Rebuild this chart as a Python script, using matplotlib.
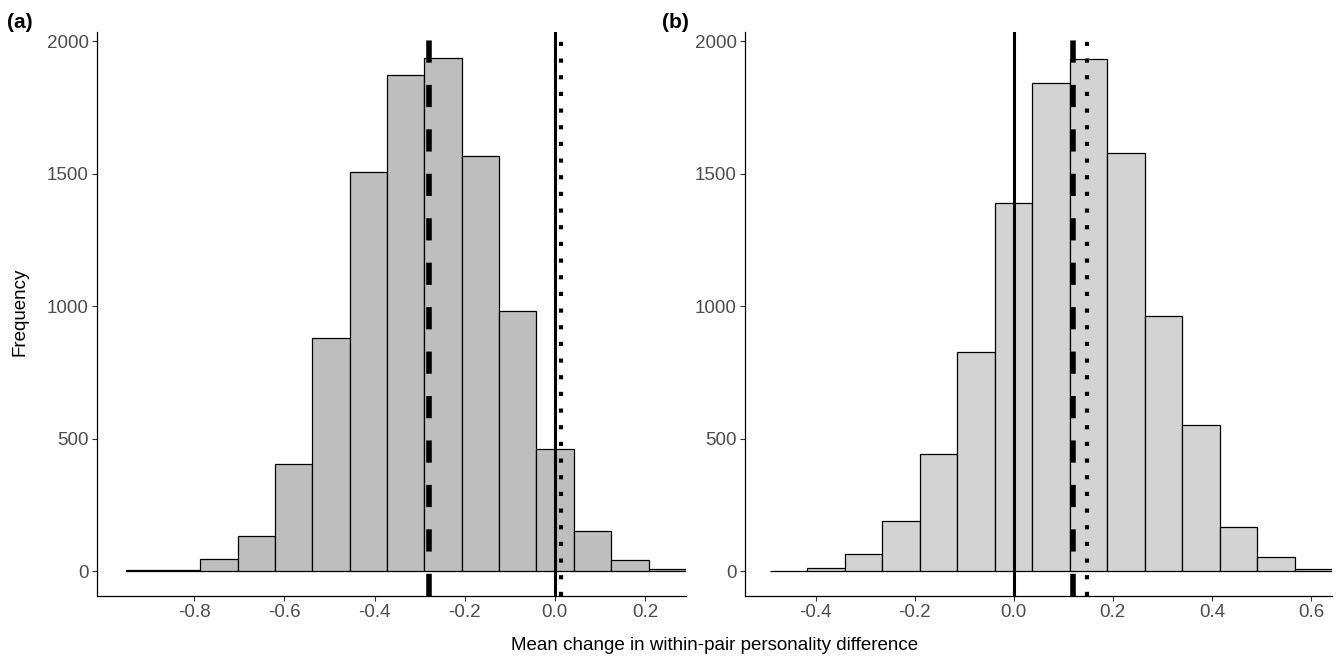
import matplotlib
matplotlib.use("Agg")
import matplotlib.pyplot as plt
import numpy as np

plt.rcParams['font.family'] = ['Liberation Sans', 'DejaVu Sans']
plt.rcParams['axes.unicode_minus'] = False

# ---------------- data ----------------
# panel (a)
a_edges = [-0.9525, -0.8696, -0.7867, -0.7039, -0.6210, -0.5381, -0.4552, -0.3723,
           -0.2895, -0.2066, -0.1237, -0.0408, 0.0421, 0.1249, 0.2078, 0.2907]
a_counts = [3, 5, 47, 134, 403, 879, 1507, 1873, 1936, 1567, 983, 460, 152, 41, 7]
a_dashed = -0.280
a_dotted = 0.0145
a_solid = 0.0
a_xticks = [-0.8, -0.6, -0.4, -0.2, 0.0, 0.2]
a_xticklabels = ["-0.8", "-0.6", "-0.4", "-0.2", "0.0", "0.2"]
a_xlim = (-1.016, 0.291)

# panel (b)
b_edges = [-0.4925, -0.4168, -0.3412, -0.2655, -0.1899, -0.1142, -0.0386, 0.0371,
           0.1128, 0.1884, 0.2641, 0.3397, 0.4154, 0.4910, 0.5667, 0.6424]
b_counts = [2, 11, 66, 189, 442, 827, 1388, 1842, 1933, 1579, 962, 551, 168, 52, 7]
b_dashed = 0.119
b_dotted = 0.148
b_solid = 0.0
b_xticks = [-0.4, -0.2, 0.0, 0.2, 0.4, 0.6]
b_xticklabels = ["-0.4", "-0.2", "0.0", "0.2", "0.4", "0.6"]
b_xlim = (-0.5426, 0.6424)

yticks = [0, 500, 1000, 1500, 2000]
yticklabels = ["0", "500", "1000", "1500", "2000"]
ylim = (-94, 2034)

panel_labels = ["(a)", "(b)"]
xlabel = "Mean change in within-pair personality difference"
ylabel = "Frequency"

# ---------------- figure ----------------
W, H = 1338, 659
fig = plt.figure(figsize=(W / 100, H / 100), dpi=100)
fig.patch.set_facecolor("white")

def px_axes(x0, x1, ytop, ybot):
    return fig.add_axes([x0 / W, 1 - ybot / H, (x1 - x0) / W, (ybot - ytop) / H])

ax1 = px_axes(97, 686, 32, 596)
ax2 = px_axes(745, 1332, 32, 596)

def draw(ax, edges, counts, fill, dashed, dotted, solid, xticks, xticklabels, xlim):
    edges = np.asarray(edges)
    widths = np.diff(edges)
    ax.bar(edges[:-1], counts, width=widths, align='edge', color=fill,
           edgecolor='black', linewidth=0.9, zorder=2)
    ax.axvline(solid, color='black', linewidth=2.2, zorder=3)
    ax.axvline(dashed, color='black', linewidth=4.0, linestyle=(0, (4, 4)),
               dash_capstyle='butt', zorder=3)
    ax.axvline(dotted, color='black', linewidth=3.0, linestyle=(0, (1, 3)),
               dash_capstyle='butt', zorder=3)
    ax.set_xlim(*xlim)
    ax.set_ylim(*ylim)
    ax.set_xticks(xticks)
    ax.set_xticklabels(xticklabels)
    ax.set_yticks(yticks)
    ax.set_yticklabels(yticklabels)
    for s in ['top', 'right']:
        ax.spines[s].set_visible(False)
    for s in ['left', 'bottom']:
        ax.spines[s].set_linewidth(0.9)
        ax.spines[s].set_color('black')
    ax.tick_params(axis='both', direction='out', length=3.5, width=0.8,
                   color='#333333', labelsize=13.5, labelcolor='#4D4D4D', pad=2.5)
    ax.set_facecolor('white')

draw(ax1, a_edges, a_counts, '#BEBEBE', a_dashed, a_dotted, a_solid,
     a_xticks, a_xticklabels, a_xlim)
draw(ax2, b_edges, b_counts, '#D3D3D3', b_dashed, b_dotted, b_solid,
     b_xticks, b_xticklabels, b_xlim)

fig.text(20 / W, 1 - 23 / H, panel_labels[0], fontsize=15, fontweight='bold',
         ha='center', va='center')
fig.text(675 / W, 1 - 23 / H, panel_labels[1], fontsize=15, fontweight='bold',
         ha='center', va='center')
fig.text(715 / W, 1 - 645 / H, xlabel, fontsize=13.5, ha='center', va='center')
fig.text(20 / W, 1 - 312 / H, ylabel, fontsize=13.5, rotation=90,
         ha='center', va='center')

fig.savefig("out.png", dpi=100)
